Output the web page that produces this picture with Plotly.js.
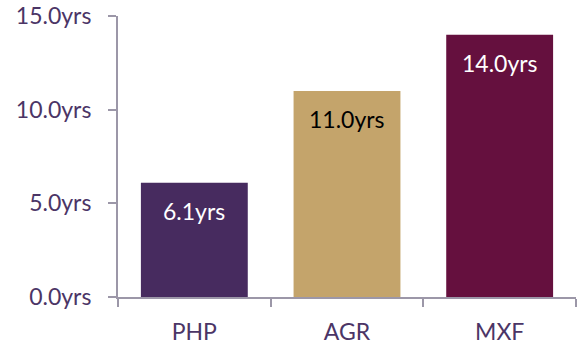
<!DOCTYPE html>
<html><head><meta charset="utf-8">
<script src="https://cdn.plot.ly/plotly-3.0.1.min.js"></script>
<style>html,body{margin:0;padding:0;background:#fff;}#chart{width:578px;height:347px;}</style>
</head><body><div id="chart"></div>
<script>
var categories = ["PHP", "AGR", "MXF"];
var values = [6.1, 11.0, 14.0];
var barColors = ["#472b5f", "#c4a46b", "#65103e"];
var labelColors = ["#ffffff", "#000000", "#ffffff"];
var yTickVals = [0, 5, 10, 15];
var yTickText = ["0.0yrs", "5.0yrs", "10.0yrs", "15.0yrs"];

var trace = {
  type: "bar", x: categories, y: values,
  marker: {color: barColors},
  width: 0.7, hoverinfo: "none"
};
var annotations = categories.map(function(c, i){
  return {x: c, y: values[i], xref: "x", yref: "y", text: values[i].toFixed(1) + "yrs",
    showarrow: false, yanchor: "top", yshift: -12,
    font: {family: "Lato, sans-serif", size: 23, color: labelColors[i]}};
});
var axisColor = "#9c97a8";
var layout = {
  width: 578, height: 347,
  margin: {l: 118, r: 2, t: 16, b: 50},
  paper_bgcolor: "#fff", plot_bgcolor: "#fff",
  showlegend: false,
  bargap: 0.3,
  xaxis: {type: "category", showline: true, linecolor: axisColor, linewidth: 2,
    ticks: "outside", tickson: "boundaries", ticklen: 8, tickwidth: 2, tickcolor: axisColor,
    showgrid: false, zeroline: false, ticklabelstandoff: 13,
    tickfont: {family: "Lato, sans-serif", size: 23, color: "#4b3566"}},
  yaxis: {range: [0, 15], tickvals: yTickVals, ticktext: yTickText,
    showline: true, linecolor: axisColor, linewidth: 2,
    ticks: "outside", ticklen: 8, tickwidth: 2, tickcolor: axisColor,
    showgrid: false, zeroline: false, ticklabelstandoff: 12,
    tickfont: {family: "Lato, sans-serif", size: 23, color: "#4b3566"}},
  annotations: annotations
};
Plotly.newPlot("chart", [trace], layout, {displayModeBar: false, staticPlot: true});
</script></body></html>
